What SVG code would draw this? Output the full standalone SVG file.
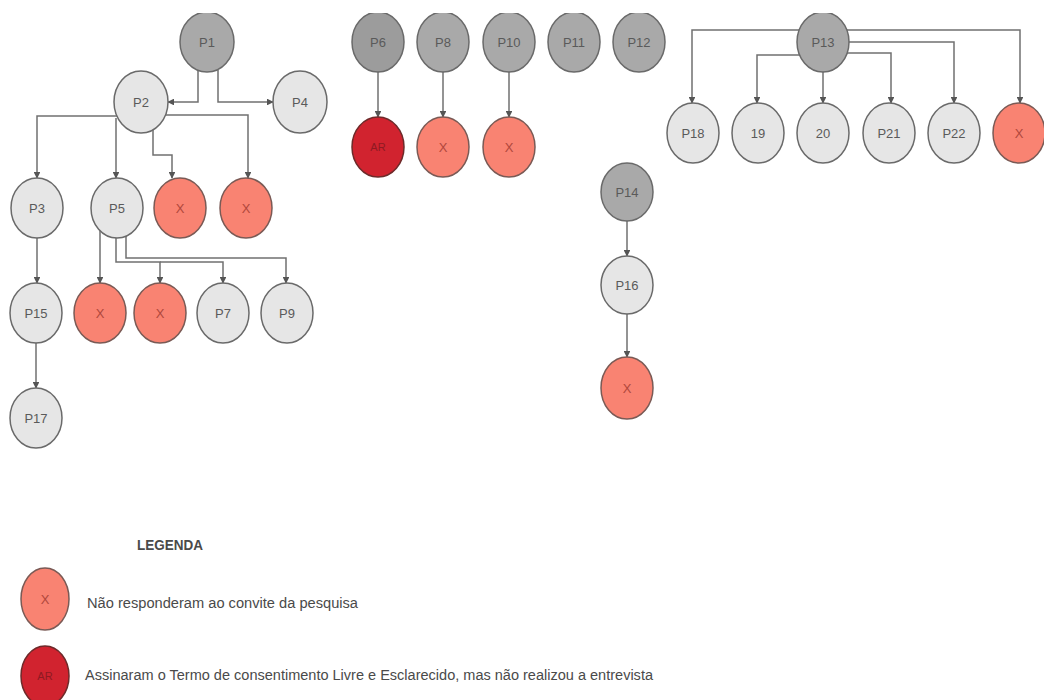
<svg xmlns="http://www.w3.org/2000/svg" width="1044" height="700" viewBox="0 0 1044 700">
<defs>
<style>
.n ellipse{stroke:#6a6a6a;stroke-width:1.5}
.dk ellipse{fill:#a9a9a9}
.dk2 ellipse{fill:#9c9c9c}
.lt ellipse{fill:#e6e6e6}
.x ellipse{fill:#f98372;stroke:#7a5a55}
.ar ellipse{fill:#d1232f;stroke:#6e2a2a}
.n text{font-family:"Liberation Sans Narrow","Liberation Sans",Arial,sans-serif;font-size:13px;fill:#5a5a5a;text-anchor:middle;dominant-baseline:central}
.x text{fill:#b0473c}
.ar text{fill:#8e1a22;font-size:11px}
.e path{fill:none;stroke:#707070;stroke-width:1.5;marker-end:url(#ah)}
.lg{font-family:"Liberation Sans Narrow","Liberation Sans",Arial,sans-serif;font-size:14px;fill:#4a4a4a;dominant-baseline:central}
</style>
<marker id="ah" viewBox="0 0 10 10" refX="9" refY="5" markerWidth="4.5" markerHeight="4.5" orient="auto" markerUnits="strokeWidth">
<path d="M0,0 L10,5 L0,10 z" fill="#555"/>
</marker>
<clipPath id="cut"><rect x="0" y="13" width="1044" height="687"/></clipPath>
</defs>
<rect width="1044" height="700" fill="#ffffff"/>
<g clip-path="url(#cut)">
<g id="connectors" class="e">
<path d="M198,70 V102 H168"/>
<path d="M218,70 V102 H273"/>
<path d="M120,116 H37 V178"/>
<path d="M116,118 V178"/>
<path d="M153,128 V155 H172 V178"/>
<path d="M160,115 H248 V178"/>
<path d="M37,236 V283"/>
<path d="M36,341 V388"/>
<path d="M100,228 V283"/>
<path d="M116,236 V262 H160 V283"/>
<path d="M160,262 H223 V283"/>
<path d="M126,234 V258 H286 V283"/>
<path d="M378,70 V117"/>
<path d="M443,70 V117"/>
<path d="M509,70 V117"/>
<path d="M627,220 V256"/>
<path d="M627,313 V357"/>
<path d="M802,30 H692 V103"/>
<path d="M844,30 H1020 V103"/>
<path d="M846,42 H954 V103"/>
<path d="M844,53 H891 V103"/>
<path d="M802,55 H757 V103"/>
<path d="M823,70 V103"/>
</g>
<g id="P1" class="n dk"><ellipse cx="207" cy="42" rx="27" ry="30"/><text x="207" y="42">P1</text></g>
<g id="P2" class="n lt"><ellipse cx="141" cy="102" rx="27" ry="31"/><text x="141" y="102">P2</text></g>
<g id="P4" class="n lt"><ellipse cx="300" cy="102" rx="27" ry="31"/><text x="300" y="102">P4</text></g>
<g id="P3" class="n lt"><ellipse cx="37" cy="208" rx="26" ry="30"/><text x="37" y="208">P3</text></g>
<g id="P5" class="n lt"><ellipse cx="117" cy="208" rx="26" ry="30"/><text x="117" y="208">P5</text></g>
<g id="X1" class="n x"><ellipse cx="180" cy="208" rx="26" ry="30"/><text x="180" y="208">X</text></g>
<g id="X2" class="n x"><ellipse cx="246" cy="208" rx="26" ry="30"/><text x="246" y="208">X</text></g>
<g id="P15" class="n lt"><ellipse cx="36" cy="313" rx="26" ry="30"/><text x="36" y="313">P15</text></g>
<g id="P17" class="n lt"><ellipse cx="36" cy="418" rx="26" ry="30"/><text x="36" y="418">P17</text></g>
<g id="X3" class="n x"><ellipse cx="100" cy="313" rx="26" ry="30"/><text x="100" y="313">X</text></g>
<g id="X4" class="n x"><ellipse cx="160" cy="313" rx="26" ry="30"/><text x="160" y="313">X</text></g>
<g id="P7" class="n lt"><ellipse cx="223" cy="313" rx="26" ry="30"/><text x="223" y="313">P7</text></g>
<g id="P9" class="n lt"><ellipse cx="287" cy="313" rx="26" ry="30"/><text x="287" y="313">P9</text></g>
<g id="P6" class="n dk2"><ellipse cx="378" cy="42" rx="26" ry="30"/><text x="378" y="42">P6</text></g>
<g id="P8" class="n dk"><ellipse cx="443" cy="42" rx="26" ry="30"/><text x="443" y="42">P8</text></g>
<g id="P10" class="n dk"><ellipse cx="509" cy="42" rx="26" ry="30"/><text x="509" y="42">P10</text></g>
<g id="P11" class="n dk"><ellipse cx="574" cy="42" rx="26" ry="30"/><text x="574" y="42">P11</text></g>
<g id="P12" class="n dk"><ellipse cx="639" cy="42" rx="26" ry="30"/><text x="639" y="42">P12</text></g>
<g id="AR1" class="n ar"><ellipse cx="378" cy="147" rx="26" ry="30"/><text x="378" y="147">AR</text></g>
<g id="X5" class="n x"><ellipse cx="443" cy="147" rx="26" ry="30"/><text x="443" y="147">X</text></g>
<g id="X6" class="n x"><ellipse cx="509" cy="147" rx="26" ry="30"/><text x="509" y="147">X</text></g>
<g id="P14" class="n dk"><ellipse cx="627" cy="192" rx="26" ry="29"/><text x="627" y="192">P14</text></g>
<g id="P16" class="n lt"><ellipse cx="627" cy="285" rx="26" ry="29"/><text x="627" y="285">P16</text></g>
<g id="X7" class="n x"><ellipse cx="627" cy="388" rx="26" ry="31"/><text x="627" y="388">X</text></g>
<g id="P13" class="n dk"><ellipse cx="823" cy="42" rx="26" ry="30"/><text x="823" y="42">P13</text></g>
<g id="P18" class="n lt"><ellipse cx="693" cy="133" rx="26" ry="30"/><text x="693" y="133">P18</text></g>
<g id="N19" class="n lt"><ellipse cx="758" cy="133" rx="26" ry="30"/><text x="758" y="133">19</text></g>
<g id="N20" class="n lt"><ellipse cx="823" cy="133" rx="26" ry="30"/><text x="823" y="133">20</text></g>
<g id="P21" class="n lt"><ellipse cx="889" cy="133" rx="26" ry="30"/><text x="889" y="133">P21</text></g>
<g id="P22" class="n lt"><ellipse cx="954" cy="133" rx="26" ry="30"/><text x="954" y="133">P22</text></g>
<g id="X8" class="n x"><ellipse cx="1019" cy="133" rx="26" ry="30"/><text x="1019" y="133">X</text></g>
</g>
<g id="legend">
<text class="lg" x="137" y="545" font-weight="bold" font-size="12" textLength="66" lengthAdjust="spacingAndGlyphs">LEGENDA</text>
<g id="legend-x" class="n x"><ellipse cx="45" cy="599" rx="24" ry="31"/><text x="45" y="599">X</text></g>
<text class="lg" x="87" y="603" textLength="271" lengthAdjust="spacingAndGlyphs">Não responderam ao convite da pesquisa</text>
<g id="legend-ar" class="n ar"><ellipse cx="45" cy="676" rx="24" ry="30"/><text x="45" y="676">AR</text></g>
<text class="lg" x="85" y="675" textLength="568" lengthAdjust="spacingAndGlyphs">Assinaram o Termo de consentimento Livre e Esclarecido, mas não realizou a entrevista</text>
</g>
</svg>
